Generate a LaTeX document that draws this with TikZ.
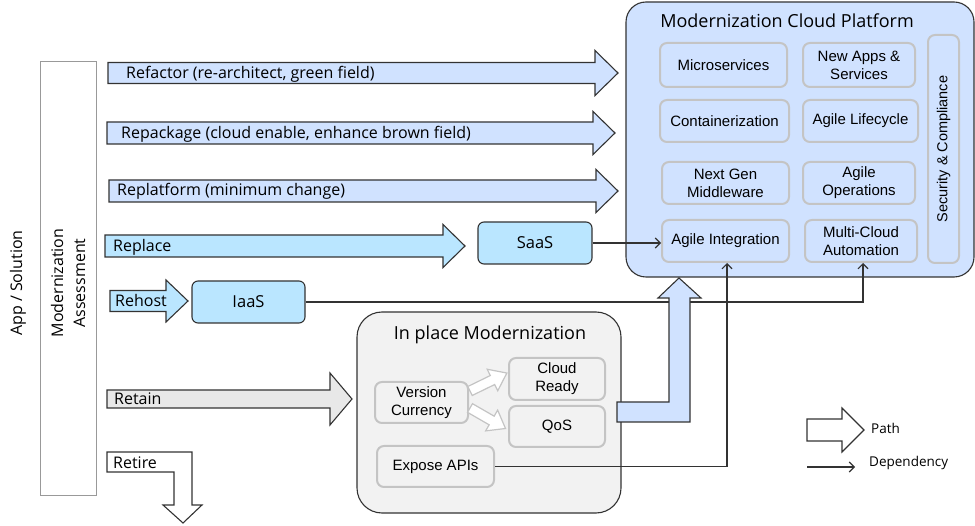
\documentclass[tikz,border=0pt]{standalone}
\usepackage{fontspec}
\setmainfont{Liberation Sans}
\newfontfamily\plex{Open Sans}
\usetikzlibrary{arrows.meta}
\definecolor{platblue}{HTML}{D0E2FF}
\definecolor{cyanb}{HTML}{BAE6FF}
\definecolor{graybox}{HTML}{F2F2F2}
\definecolor{retaingray}{HTML}{E8E8E8}
\definecolor{innerborder}{HTML}{C4C4C4}
\definecolor{darkline}{HTML}{333333}
\newcommand\fs[2]{\fontsize{#1}{#2}\selectfont}
% horizontal block arrow: fill, x0, xbase, xtip, yc, body half, head half
\newcommand\harrow[7]{%
  \draw[pathshape, fill=#1] (#2,{#5-#6}) -- (#3,{#5-#6}) -- (#3,{#5-#7}) -- (#4,#5)
    -- (#3,{#5+#7}) -- (#3,{#5+#6}) -- (#2,{#5+#6}) -- cycle;}
\tikzset{
  pathshape/.style={draw=darkline, line width=1.1pt, line join=miter},
  dep/.style={draw=darkline, line width=1.1pt, -{Straight Barb[length=5pt,width=10pt]}},
  inbox/.style={draw=innerborder, line width=2pt, rounded corners=7pt, font=\fs{15}{18}, align=center, inner sep=0pt},
  bigbox/.style={draw=darkline, line width=1.1pt, inner sep=0pt},
  cbox/.style={draw=darkline, line width=1.1pt, fill=cyanb, rounded corners=6pt, inner sep=0pt, font=\plex\fs{16.5}{18}},
  lbl/.style={anchor=west, inner sep=0pt, font=\plex\fs{16}{18}},
  smallarrow/.style={draw=innerborder, line width=1.2pt, fill=white, line join=miter},
}
\begin{document}
\begin{tikzpicture}[x=1pt,y=-1pt]
\useasboundingbox (0,0) rectangle (975,526);

% left column
\node[rotate=90, font=\plex\fs{16}{18}] (app) at (18,283) {App / Solution};
\node[draw=gray!80, line width=1pt, minimum width=56pt, minimum height=433pt, inner sep=0pt] (assess) at (68,278.5) {};
\node[rotate=90, align=center, font=\plex\fs{16}{22}, inner sep=0pt] (assesst) at (68,283) {Modernization\\Assessment};

% platform
\node[bigbox, fill=platblue, rounded corners=20pt, minimum width=348pt, minimum height=275pt] (plat) at (800,139.5) {};
\node[font=\plex\fs{18}{20}, inner sep=0pt] (platt) at (787,21) {Modernization Cloud Platform};
\node[inbox, minimum width=127pt, minimum height=44pt] (micro) at (723.5,65) {Microservices};
\node[inbox, minimum width=112pt, minimum height=44pt] (newapps) at (859,65) {New Apps \&\\Services};
\node[inbox, minimum width=129pt, minimum height=42pt] (contain) at (724.5,121) {Containerization};
\node[inbox, minimum width=115pt, minimum height=42pt] (life) at (860.5,121) {Agile Lifecycle};
\node[inbox, minimum width=127pt, minimum height=42pt] (nextgen) at (725.5,183) {Next Gen\\Middleware};
\node[inbox, minimum width=112pt, minimum height=42pt] (ops) at (859,183) {Agile\\Operations};
\node[inbox, minimum width=127pt, minimum height=42pt] (agint) at (725.5,241) {Agile Integration};
\node[inbox, minimum width=112pt, minimum height=42pt] (mcloud) at (861,241) {Multi-Cloud\\Automation};
\node[inbox, rotate=90, font=\fs{14.5}{17}, minimum width=228pt, minimum height=31pt] (sec) at (943.5,149) {Security \& Compliance};

% path arrows
\harrow{platblue}{108}{595}{618}{73}{10.5}{22.5}
\node[lbl] (refactor) at (126,74) {Refactor (re-architect, green field)};
\harrow{platblue}{107}{593}{615}{133}{11}{21.5}
\node[lbl] (repack) at (121,134) {Repackage (cloud enable, enhance brown field)};
\harrow{platblue}{109}{596}{618}{191}{11}{21.5}
\node[lbl] (replat) at (117,191) {Replatform (minimum change)};
\harrow{cyanb}{105}{443}{465}{246}{11}{21.5}
\node[lbl] (replace) at (113,247) {Replace};
\harrow{cyanb}{110}{166}{188}{301}{10.5}{21}
\node[lbl] (rehost) at (115,301) {Rehost};
\harrow{retaingray}{107}{330}{352}{399}{9}{26}
\node[lbl] (retain) at (114,399) {Retain};
\draw[pathshape, fill=white] (107,452) -- (192,452) -- (192,505) -- (202,505) -- (183,523)
  -- (163,505) -- (174,505) -- (174,472) -- (107,472) -- cycle;
\node[lbl] (retire) at (113,463) {Retire};

% SaaS / IaaS
\node[cbox, minimum width=114pt, minimum height=42pt] (saas) at (535,243) {SaaS};
\node[cbox, minimum width=113pt, minimum height=42pt] (iaas) at (248.5,302) {IaaS};

% in place modernization
\node[bigbox, fill=graybox, rounded corners=25pt, minimum width=264pt, minimum height=201pt] (inplace) at (489,412.5) {};
\node[font=\plex\fs{18}{20}, inner sep=0pt] (inplacet) at (490,335) {In place Modernization};
\node[inbox, minimum width=93pt, minimum height=41pt] (version) at (421.5,402.5) {Version\\Currency};
\node[inbox, minimum width=96pt, minimum height=42pt] (cready) at (557,379) {Cloud\\Ready};
\node[inbox, minimum width=96pt, minimum height=41pt] (qos) at (557,426.5) {QoS};
\node[inbox, minimum width=117pt, minimum height=41pt] (expose) at (435.5,466.5) {Expose APIs};

\begin{scope}[shift={(470,391)}, rotate=26]
  \draw[smallarrow] (0,-5) -- (25,-5) -- (25,-12) -- (41,0) -- (25,12) -- (25,5) -- (0,5) -- cycle;
\end{scope}
\begin{scope}[shift={(470,408)}, rotate=-30]
  \draw[smallarrow] (0,-5) -- (25,-5) -- (25,-12) -- (41,0) -- (25,12) -- (25,5) -- (0,5) -- cycle;
\end{scope}

% dependencies
\draw[dep] (saas.east) -- (saas.east -| agint.west);
\draw[dep] (iaas.east) -| ([xshift=2pt]mcloud.south);
\draw[dep] (expose.east) -| ([xshift=1.5pt]agint.south);

% L path arrow from in place to platform
\draw[pathshape, fill=platblue] (617,402) -- (669,402) -- (669,298) -- (658,298) -- (679,278)
  -- (701,298) -- (690,298) -- (690,422) -- (617,422) -- cycle;

% legend
\harrow{white}{807}{842}{864}{430}{11}{22}
\node[lbl, font=\plex\fs{13.5}{16}] (pathl) at (871,428) {Path};
\coordinate (dep0) at (807,467);
\coordinate (dep1) at (855,467);
\draw[dep] (dep0) -- (dep1);
\node[lbl, font=\plex\fs{13.5}{16}] (depl) at (869,463) {Dependency};
\end{tikzpicture}
\end{document}
